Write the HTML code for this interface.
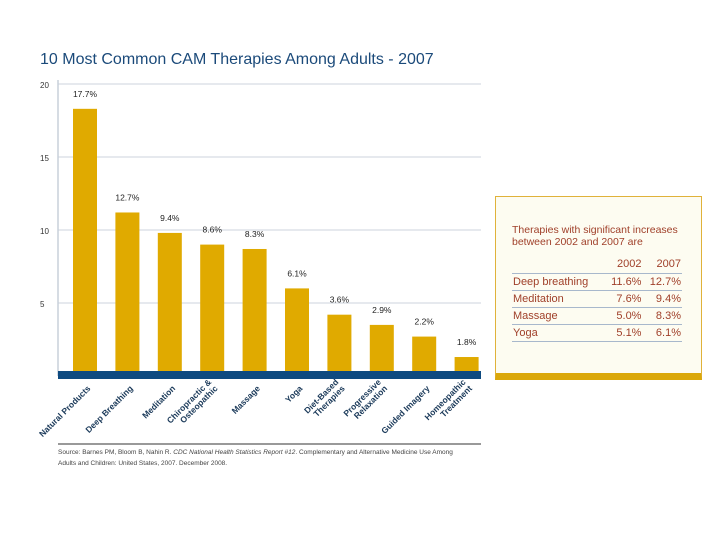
<!DOCTYPE html>
<html><head><meta charset="utf-8"><style>
body{margin:0;background:#fff;width:720px;height:540px;overflow:hidden;font-family:"Liberation Sans",sans-serif;position:relative}
.t{position:absolute}
</style></head><body>
<div class="t" style="left:40px;top:51px;font-size:16px;color:#1b4a7a;">10 Most Common CAM Therapies Among Adults - 2007</div>
<svg id="chart" width="720" height="540" style="position:absolute;left:0;top:0"></svg>
<div class="t" style="left:58px;top:447px;font-size:6.5px;color:#444;line-height:11px;width:405px">Source: Barnes PM, Bloom B, Nahin R. <i>CDC National Health Statistics Report #12</i>. Complementary and Alternative Medicine Use Among Adults and Children: United States, 2007. December 2008.</div>
<div style="position:absolute;left:495px;top:196px;width:205px;height:176px;background:#fdfcf1;border:1.5px solid #e0b23a;border-bottom:7px solid #dba80a;color:#a0402a;font-size:10.5px">
 <div style="position:absolute;left:16px;top:27px;line-height:12px">Therapies with significant increases<br>between 2002 and 2007 are</div>
 <table style="position:absolute;left:16px;top:59px;width:170px;border-collapse:collapse;font-size:11px">
  <tr style="height:17px"><td></td><td style="text-align:right">2002</td><td style="text-align:right">2007</td></tr>
  <tr style="height:17px;border-top:1px solid #a8b8cc"><td>Deep breathing</td><td style="text-align:right">11.6%</td><td style="text-align:right">12.7%</td></tr>
  <tr style="height:17px;border-top:1px solid #a8b8cc"><td>Meditation</td><td style="text-align:right">7.6%</td><td style="text-align:right">9.4%</td></tr>
  <tr style="height:17px;border-top:1px solid #a8b8cc"><td>Massage</td><td style="text-align:right">5.0%</td><td style="text-align:right">8.3%</td></tr>
  <tr style="height:17px;border-top:1px solid #a8b8cc;border-bottom:1px solid #a8b8cc"><td>Yoga</td><td style="text-align:right">5.1%</td><td style="text-align:right">6.1%</td></tr>
 </table>
</div>
<script>
const categories=[["Natural Products"],["Deep Breathing"],["Meditation"],["Chiropractic &","Osteopathic"],["Massage"],["Yoga"],["Diet-Based","Therapies"],["Progressive","Relaxation"],["Guided Imagery"],["Homeopathic","Treatment"]];
const values=[18.3,11.2,9.8,9.0,8.7,6.0,4.2,3.5,2.7,1.3];
const valueLabels=["17.7%","12.7%","9.4%","8.6%","8.3%","6.1%","3.6%","2.9%","2.2%","1.8%"];
const yTicks=[5,10,15,20];
const NS="http://www.w3.org/2000/svg";
const svg=document.getElementById('chart');
const x0=58,x1=481,yZero=376,pxPerUnit=14.6;
const y=v=>yZero-v*pxPerUnit;
const step=42.4,bw=24,xStart=73;
const bx=i=>xStart+i*step;
function mk(t,a){const e=document.createElementNS(NS,t);for(const k in a)e.setAttribute(k,a[k]);svg.appendChild(e);return e;}
yTicks.forEach(t=>{
 const g=mk('line',{x1:x0,x2:x1,y1:y(t),y2:y(t),stroke:'#dde2e8','stroke-width':1.5});
 
 
 const l=mk('text',{x:40,y:y(t)+4,'font-size':8,fill:'#333','font-family':'Liberation Sans'});
 l.textContent=t;
 
 
});
const ax=mk('line',{x1:x0,x2:x0,y1:80,y2:376,stroke:'#c8d0da','stroke-width':1.5});


values.forEach((v,i)=>{
 const r=mk('rect',{x:bx(i),y:y(v),width:bw,height:yZero-y(v),fill:'#e0aa00'});
 
 
 const t=mk('text',{x:bx(i)+bw/2,y:y(v)-12,'font-size':8.5,fill:'#222','text-anchor':'middle','font-family':'Liberation Sans'});
 t.textContent=valueLabels[i];
 
 
 const cx=bx(i)+bw/2+6, cy=389;
 const tx=mk('text',{transform:`translate(${cx},${cy}) rotate(-45)`,'font-size':8.5,fill:'#1b3a5a','text-anchor':'end','font-weight':'bold','font-family':'Liberation Sans'});
 categories[i].forEach((ln,j)=>{const s=document.createElementNS(NS,'tspan');s.setAttribute('x',0);s.setAttribute('y',(j-(categories[i].length-1))*9);s.textContent=ln;tx.appendChild(s);});
 
 
});
const base=mk('rect',{x:x0,y:371,width:x1-x0,height:8,fill:'#0e4a80'});


const sep=mk('line',{x1:x0,x2:x1,y1:444,y2:444,stroke:'#999','stroke-width':2});


</script>
</body></html>
